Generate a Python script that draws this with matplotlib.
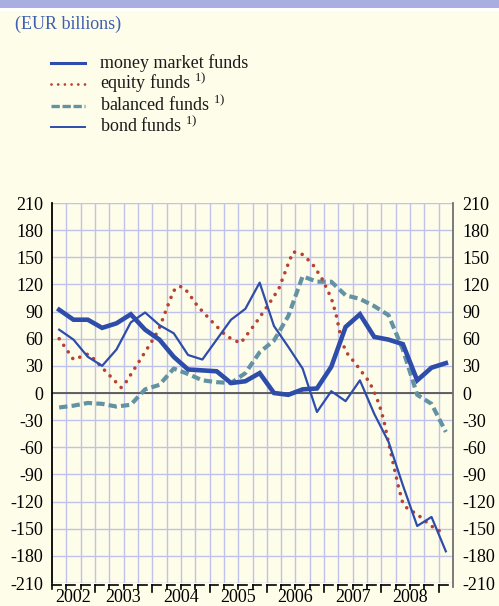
import numpy as np
import matplotlib
matplotlib.use("Agg")
import matplotlib.pyplot as plt
from matplotlib.lines import Line2D
from matplotlib.patches import Rectangle

# quarterly flows, 2002 Q2 .. 2009 Q1 (quarter index 0..27), EUR billions
money_market = [92, 81, 81, 72, 77, 87, 70, 59, 40, 26, 25, 24, 11, 13, 22, 0,
                -2, 4, 5, 29, 73, 87, 62, 59, 54, 14, 28, 33]
bond = [70, 59, 40, 30, 48, 78, 89, 75, 66, 42, 37, 59, 81, 93, 122, 74,
        51, 27, -21, 2, -9, 14, -23, -54, -102, -147, -137, -175]
balanced = [-16, -14, -11, -12, -15, -13, 4, 9, 27, 21, 14, 12, 11, 22, 45, 58,
            85, 129, 123, 123, 108, 104, 96, 86, 48, -2, -12, -43]

# equity funds: monthly curve (month 0 = April 2002), read where it bends
equity_month = [1, 4, 7, 8, 14, 15, 21, 22, 24, 25, 26, 27, 28, 30, 33, 36, 39,
                42, 45, 47, 49, 50, 51, 52, 54, 56, 58, 59, 60, 61, 63, 66, 67,
                68, 69, 70, 72, 73, 74, 76, 78, 80, 82]
equity = [60, 37, 43, 39, 6, 12, 62, 72, 100, 113, 118, 117, 111, 96, 79, 63, 55,
          76, 99, 115, 143, 156, 155, 153, 143, 127, 105, 87, 62, 46, 33, 12, 1,
          -12, -30, -55, -102, -122, -128, -134, -143, -151, -155]

years = ['2002', '2003', '2004', '2005', '2006', '2007', '2008']
y_ticks = list(range(-210, 211, 30))

labels = ['money market funds', 'equity funds', 'balanced funds', 'bond funds']

W, H = 499, 606
bg = '#fefde9'
blue = '#2e4dab'
red = '#b8412f'
teal = '#6393a3'
grid_c = '#bfc3ec'

plt.rcParams['font.family'] = ['Liberation Serif', 'DejaVu Serif']
plt.rcParams['axes.unicode_minus'] = False
plt.rcParams['mathtext.default'] = 'regular'

fig = plt.figure(figsize=(W / 100, H / 100), dpi=100, facecolor=bg)


def fx(px):
    return px / W


def fy(py):
    return 1 - py / H


# top band
fig.patches.append(Rectangle((0, fy(8.5)), 1, 8.5 / H, transform=fig.transFigure,
                             facecolor='#a9aee0', edgecolor='none'))
fig.patches.append(Rectangle((0, fy(10.5)), 1, 2 / H, transform=fig.transFigure,
                             facecolor='white', edgecolor='none'))

fig.text(fx(15), fy(24), '(EUR billions)', color='#3d5fb4', fontsize=13,
         va='center', ha='left')

ax = fig.add_axes([fx(52), fy(583), fx(453) - fx(52), (583 - 203) / H])
ax.set_facecolor(bg)

q = np.arange(len(money_market))
eq_x = (np.array(equity_month) - 1) / 3

ax.plot(q, balanced, color=teal, lw=3.0, ls=(0, (2.0, 1.0)), dash_capstyle='butt', zorder=3)
ax.plot(eq_x, equity, color=red, lw=2.6, ls=(0, (0.01, 2.2)), dash_capstyle='round', zorder=4)
ax.plot(q, bond, color=blue, lw=1.6, zorder=5)
ax.plot(q, money_market, color=blue, lw=3.3, solid_joinstyle='miter', zorder=6)

ax.axhline(0, color='#555555', lw=1.3, zorder=2)

ax.set_xlim(-0.5, len(q) - 0.5)
ax.set_ylim(-210, 210)
ax.set_yticks(y_ticks)
ax.set_yticklabels([str(v) for v in y_ticks])
ax.set_xticks(np.arange(0.5, len(q) - 1, 1))
ax.set_xticklabels([])
ax.grid(True, color=grid_c, lw=1.0, zorder=0)
ax.set_axisbelow(True)
ax.tick_params(axis='x', length=0)
ax.tick_params(axis='y', length=0, labelsize=13, pad=6.5, labelright=True,
               labelleft=True, right=False)
for t in ax.yaxis.get_major_ticks():
    t.label2.set_horizontalalignment('left')

ax.spines['top'].set_visible(False)
ax.spines['bottom'].set_visible(False)
ax.spines['left'].set_color('black')
ax.spines['left'].set_linewidth(1.3)
ax.spines['right'].set_color('#707070')
ax.spines['right'].set_linewidth(1.3)
ax.spines['right'].set_bounds(-214, 210)

# bottom axis drawn as little corner ticks per quarter
trans = ax.get_xaxis_transform()
px_y = 1 / 380
for k in range(len(q)):
    b = k - 0.5
    year_edge = (k - 3) % 4 == 0
    ax.add_line(Line2D([b, b + 0.62], [-1.5 * px_y, -1.5 * px_y], transform=trans,
                       color='black', lw=1.2, clip_on=False))
    ax.add_line(Line2D([b, b], [-1.5 * px_y, (-8.5 if year_edge else -6) * px_y],
                       transform=trans, color='black', lw=1.2, clip_on=False))

for i, yr in enumerate(years):
    start = max(-0.5, 2.5 + 4 * (i - 1))
    end = min(len(q) - 0.5, 2.5 + 4 * i)
    ax.text((start + end) / 2, -18.5 * px_y, yr, transform=trans, ha='center',
            va='baseline', fontsize=13, clip_on=False)

# legend
rows = [62.5, 84, 105.5, 127]
styles = [dict(color=blue, lw=2.2),
          dict(color=red, lw=2.0, ls=(0, (0.01, 2.4)), dash_capstyle='round'),
          dict(color=teal, lw=2.4, ls=(0, (2.5, 0.8)), dash_capstyle='butt'),
          dict(color=blue, lw=1.4)]
for lab, yrow, st in zip(labels, rows, styles):
    fig.add_artist(Line2D([fx(51), fx(85)], [fy(yrow), fy(yrow)],
                          transform=fig.transFigure, **st))
    txt = lab if lab.startswith('money') else lab + r' $^{1)}$'
    fig.text(fx(100), fy(yrow + 5.3), txt, fontsize=13, va='baseline',
             ha='left', color='#1a1a1a')

fig.savefig('out.png', dpi=100, facecolor=bg)
